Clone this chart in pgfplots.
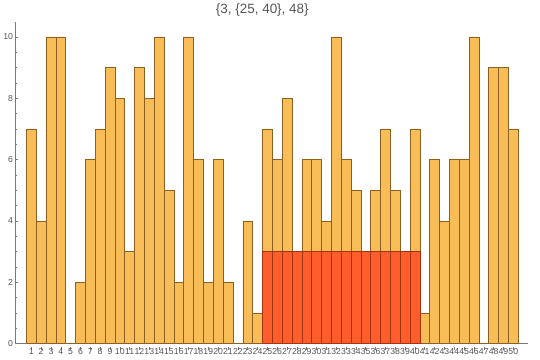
\documentclass[border=0pt]{standalone}
\usepackage{pgfplots}
\pgfplotsset{compat=1.18}
\usepackage{fontspec}
\setmainfont{Liberation Sans}
\definecolor{barfill}{RGB}{249,189,88}
\definecolor{baredge}{RGB}{140,95,35}
\definecolor{redfill}{RGB}{255,94,44}
\definecolor{rededge}{RGB}{165,50,15}
\definecolor{axgray}{RGB}{120,120,120}
\definecolor{txtgray}{RGB}{85,85,85}
\begin{document}
\begin{tikzpicture}
\begin{axis}[
  scale only axis, width=514pt, height=323pt,
  xmin=-0.6, xmax=51.5, ymin=0, ymax=10.5,
  axis x line=bottom, axis y line=left,
  axis line style={axgray, line width=0.6pt, -},
  every tick/.style={axgray, line width=0.5pt},
  tick align=inside,
  major tick length=3pt, minor tick length=2pt,
  xtick={1,...,50}, ytick={0,2,4,6,8,10}, minor y tick num=3,
  xtick style={yshift=-3pt},
  xticklabel style={yshift=1.5pt},
  yticklabel style={xshift=1pt},
  tick label style={font=\fontsize{8.7}{9}\selectfont, text=txtgray},
  /pgf/number format/assume math mode=true,
  clip=false,
  ybar, bar width=1, bar shift=0pt,
]
\addplot[fill=barfill, draw=baredge, line width=0.5pt] coordinates {
(1,7) (2,4) (3,10) (4,10) (5,0) (6,2) (7,6) (8,7) (9,9) (10,8)
(11,3) (12,9) (13,8) (14,10) (15,5) (16,2) (17,10) (18,6) (19,2) (20,6)
(21,2) (22,0) (23,4) (24,1) (25,7) (26,6) (27,8) (28,2) (29,6) (30,6)
(31,4) (32,10) (33,6) (34,5) (35,3) (36,5) (37,7) (38,5) (39,3) (40,7)
(41,1) (42,6) (43,4) (44,6) (45,6) (46,10) (47,0) (48,9) (49,9) (50,7)
};
\addplot[fill=redfill, draw=rededge, line width=0.5pt] coordinates {
(25,3) (26,3) (27,3) (28,3) (29,3) (30,3) (31,3) (32,3)
(33,3) (34,3) (35,3) (36,3) (37,3) (38,3) (39,3) (40,3)
};
\node[text=txtgray, font=\fontsize{13.5}{15}\selectfont] at ([yshift=12pt]rel axis cs:0.4815,1) {\{3, \{25, 40\}, 48\}};
\path ([shift={(-14pt,-16pt)}]rel axis cs:0,0) rectangle ([shift={(12pt,20pt)}]rel axis cs:1,1);
\end{axis}
\end{tikzpicture}
\end{document}
